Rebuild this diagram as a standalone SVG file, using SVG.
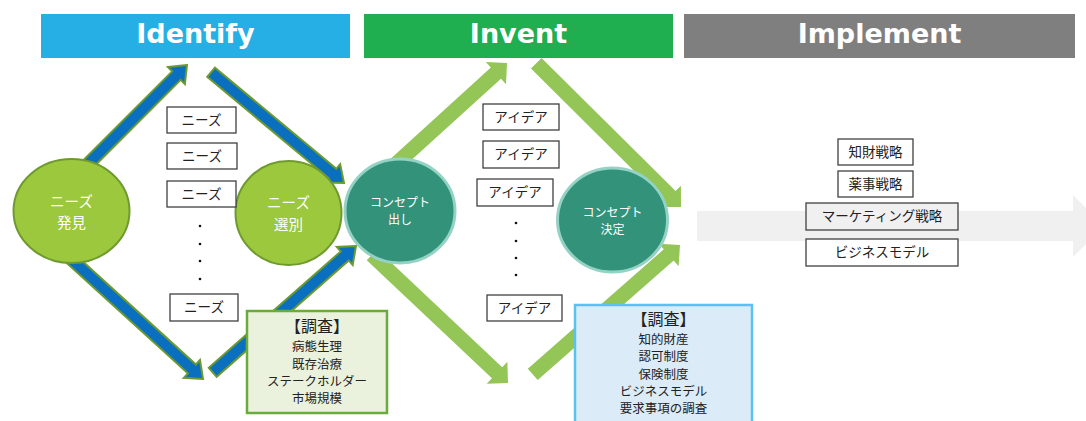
<svg xmlns="http://www.w3.org/2000/svg" width="1086" height="421" viewBox="0 0 1086 421">
<style>
.hdr{font-family:"DejaVu Sans","Liberation Sans",sans-serif;font-weight:bold;font-size:27px;fill:#fff;text-anchor:middle}
.jp{font-family:"Noto Sans CJK JP","Noto Sans",sans-serif;text-anchor:middle}
.ct{font-size:14.5px;fill:#fff}
.ct2{font-size:12px;fill:#fff}
.bx{fill:#fff;stroke:#404040;stroke-width:1.3}
.bt{font-size:13.5px;fill:#222}
.rt{font-size:12.5px;fill:#222}
.rh{font-size:16px;fill:#222}
.blue{fill:#0A6FBE;stroke:#6C9A30;stroke-width:2}
.grn{fill:#94C557}
.lg{fill:#9BC83C;stroke:#6F9A2F;stroke-width:2}
.tl{fill:#32927A;stroke:#93D2C4;stroke-width:3}
.dot{fill:#111}
</style>
<g id="headers">
<rect x="41" y="14" width="309" height="44" fill="#25AFE5"/>
<text class="hdr" x="195.5" y="43">Identify</text>
<rect x="364" y="14" width="309" height="44" fill="#1FAF50"/>
<text class="hdr" x="518.5" y="43">Invent</text>
<rect x="684" y="14" width="391" height="44" fill="#7F7F7F"/>
<text class="hdr" x="879.5" y="43">Implement</text>
</g>
<g id="implement-arrow">
<polygon points="697,211 1073,211 1073,195 1104,226 1073,257 1073,241 697,241" fill="#F0F0F0"/>
</g>
<g id="connectors">
<polygon class="blue" transform="translate(187,65) rotate(-45)" points="0,0 -15,-12 -15,-6 -163,-6 -163,6 -15,6 -15,12"/>
<polygon class="blue" transform="translate(344,183) rotate(39.8)" points="0,0 -15,-12 -15,-6 -173,-6 -173,6 -15,6 -15,12"/>
<polygon class="blue" transform="translate(203,379) rotate(42.3)" points="0,0 -15,-12 -15,-6 -180,-6 -180,6 -15,6 -15,12"/>
<polygon class="blue" transform="translate(356,246) rotate(-41.4)" points="0,0 -15,-12 -15,-6 -191,-6 -191,6 -15,6 -15,12"/>
<polygon class="grn" transform="translate(507,63) rotate(-42.3)" points="0,0 -15,-15 -15,-7.5 -152,-7.5 -152,7.5 -15,7.5 -15,15"/>
<polygon class="grn" transform="translate(681,207) rotate(44.8)" points="0,0 -15,-15 -15,-7.5 -204,-7.5 -204,7.5 -15,7.5 -15,15"/>
<polygon class="grn" transform="translate(508,383) rotate(43.3)" points="0,0 -15,-15 -15,-7.5 -187,-7.5 -187,7.5 -15,7.5 -15,15"/>
<polygon class="grn" transform="translate(680,245) rotate(-41.3)" points="0,0 -15,-15 -15,-7.5 -196,-7.5 -196,7.5 -15,7.5 -15,15"/>
</g>
<g id="needs-discovery">
<ellipse class="lg" cx="71.5" cy="211" rx="58" ry="52"/>
<text class="jp ct" x="71.5" y="207">ニーズ</text>
<text class="jp ct" x="71.5" y="228">発見</text>
</g>
<g id="needs-selection">
<ellipse class="lg" cx="288.5" cy="213" rx="53" ry="52"/>
<text class="jp ct" x="288.5" y="208">ニーズ</text>
<text class="jp ct" x="288.5" y="230">選別</text>
</g>
<g id="concept-out">
<ellipse class="tl" cx="400" cy="211" rx="55" ry="52"/>
<text class="jp ct2" x="400" y="207">コンセプト</text>
<text class="jp ct2" x="400" y="224">出し</text>
</g>
<g id="concept-decide">
<ellipse class="tl" cx="612.5" cy="220" rx="55" ry="52"/>
<text class="jp ct2" x="612.5" y="217">コンセプト</text>
<text class="jp ct2" x="612.5" y="234">決定</text>
</g>
<g id="needs-list">
<rect class="bx" x="167" y="107" width="69" height="26"/>
<text class="jp bt" x="201.5" y="125">ニーズ</text>
<rect class="bx" x="167" y="143" width="70" height="26"/>
<text class="jp bt" x="202" y="161">ニーズ</text>
<rect class="bx" x="167" y="181" width="69" height="26"/>
<text class="jp bt" x="201.5" y="199">ニーズ</text>
<circle class="dot" cx="200" cy="226" r="1.3"/>
<circle class="dot" cx="200" cy="244" r="1.3"/>
<circle class="dot" cx="200" cy="261" r="1.3"/>
<circle class="dot" cx="200" cy="279" r="1.3"/>
<rect class="bx" x="170" y="294" width="68" height="27"/>
<text class="jp bt" x="204" y="312">ニーズ</text>
</g>
<g id="idea-list">
<rect class="bx" x="483" y="104" width="76" height="26"/>
<text class="jp bt" x="521" y="122">アイデア</text>
<rect class="bx" x="483" y="141" width="76" height="27"/>
<text class="jp bt" x="521" y="159">アイデア</text>
<rect class="bx" x="477" y="179" width="76" height="27"/>
<text class="jp bt" x="515" y="197">アイデア</text>
<circle class="dot" cx="516" cy="223" r="1.3"/>
<circle class="dot" cx="516" cy="241" r="1.3"/>
<circle class="dot" cx="516" cy="258" r="1.3"/>
<circle class="dot" cx="516" cy="275" r="1.3"/>
<rect class="bx" x="487" y="295" width="75" height="26"/>
<text class="jp bt" x="524.5" y="313">アイデア</text>
</g>
<g id="research-identify">
<rect x="247" y="311" width="140" height="102" fill="#EAF1DD" stroke="#6AAB3E" stroke-width="2.5"/>
<text class="jp rh" x="317" y="332">【調査】</text>
<text class="jp rt" x="317" y="351">病態生理</text>
<text class="jp rt" x="317" y="369">既存治療</text>
<text class="jp rt" x="317" y="386">ステークホルダー</text>
<text class="jp rt" x="317" y="403">市場規模</text>
</g>
<g id="research-invent">
<rect x="575" y="305" width="177" height="125" fill="#DCEBF8" stroke="#58C3F0" stroke-width="2.5"/>
<text class="jp rh" x="663.5" y="325">【調査】</text>
<text class="jp rt" x="663.5" y="344">知的財産</text>
<text class="jp rt" x="663.5" y="361">認可制度</text>
<text class="jp rt" x="663.5" y="379">保険制度</text>
<text class="jp rt" x="663.5" y="396">ビジネスモデル</text>
<text class="jp rt" x="663.5" y="413">要求事項の調査</text>
</g>
<g id="implement-list">
<rect class="bx" x="838" y="139" width="75" height="26"/>
<text class="jp bt" x="875.5" y="157">知財戦略</text>
<rect class="bx" x="838" y="171" width="75" height="26"/>
<text class="jp bt" x="875.5" y="189">薬事戦略</text>
<rect class="bx" x="806" y="203" width="152" height="27" style="fill:#F0F0F0"/>
<text class="jp bt" x="882" y="221">マーケティング戦略</text>
<rect class="bx" x="806" y="239" width="152" height="27"/>
<text class="jp bt" x="882" y="257">ビジネスモデル</text>
</g>
</svg>
